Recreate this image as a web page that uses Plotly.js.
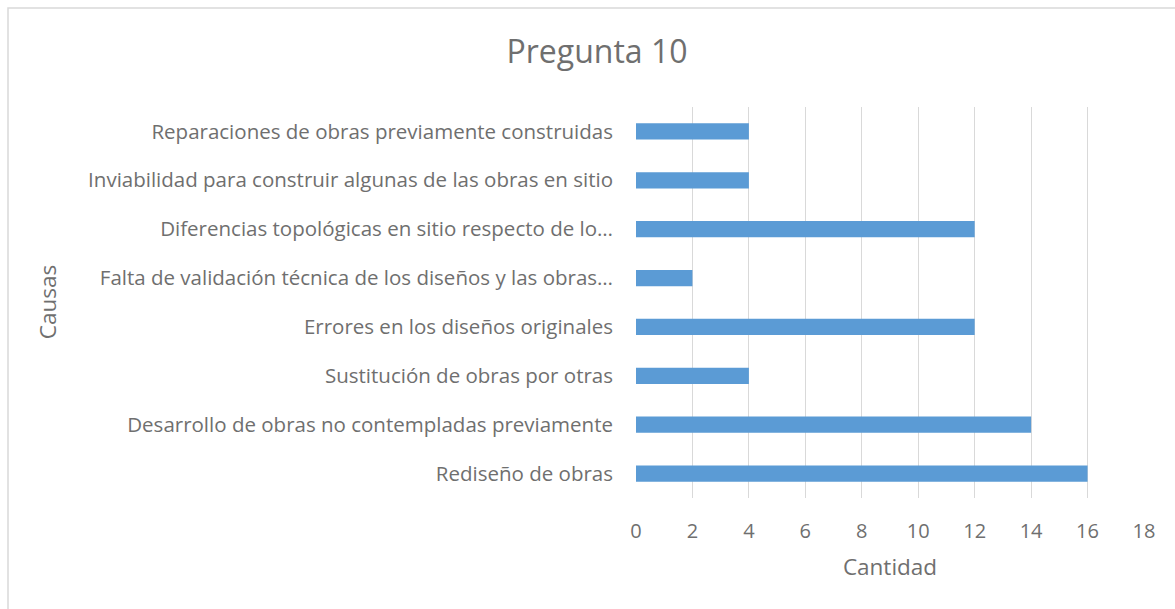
<!DOCTYPE html>
<html>
<head>
<meta charset="utf-8">
<script src="https://cdn.plot.ly/plotly-3.0.1.min.js"></script>
<style>
html,body{margin:0;padding:0;background:#fff;}
#chart{width:1175px;height:609px;}
</style>
</head>
<body>
<div id="chart"></div>
<script>
// Data (bottom to top order as drawn)
const categories = [
  "Rediseño de obras",
  "Desarrollo de obras no contempladas previamente",
  "Sustitución de obras por otras",
  "Errores en los diseños originales",
  "Falta de validación técnica de los diseños y las obras…",
  "Diferencias topológicas en sitio respecto de lo…",
  "Inviabilidad para construir algunas de las obras en sitio",
  "Reparaciones de obras previamente construidas"
];
const values = [16, 14, 4, 12, 2, 12, 4, 4];
const xTicks = [0, 2, 4, 6, 8, 10, 12, 14, 16, 18];

const W = 1175, H = 609;
const margin = {l: 636, r: 31, t: 107, b: 111};
const pw = W - margin.l - margin.r, ph = H - margin.t - margin.b;
const font = "'Open Sans', Lato, sans-serif";
const txt = "#6F6F6F";

const trace = {
  type: "bar",
  orientation: "h",
  y: categories,
  x: values,
  marker: {color: "#5B9BD5"},
  width: 0.335,
  hoverinfo: "x+y"
};

const layout = {
  width: W, height: H,
  margin: margin,
  paper_bgcolor: "#fff",
  plot_bgcolor: "#fff",
  showlegend: false,
  title: {
    text: "Pregunta 10",
    font: {family: font, size: 32, color: txt},
    x: 597 / W, xanchor: "center", xref: "container",
    y: 1 - 52 / H, yanchor: "middle", yref: "container"
  },
  xaxis: {
    range: [0, 18],
    tickvals: xTicks,
    ticktext: xTicks.map(String),
    showgrid: true,
    gridcolor: "#D9D9D9",
    gridwidth: 1,
    zeroline: false,
    showline: false,
    ticks: "",
    ticklabelstandoff: 19,
    tickfont: {family: font, size: 20, color: txt},
    title: {text: "Cantidad", font: {family: font, size: 22.5, color: txt}, standoff: 16},
    fixedrange: true
  },
  yaxis: {
    type: "category",
    categoryorder: "array",
    categoryarray: categories,
    range: [-0.5, categories.length - 0.5],
    showgrid: false,
    zeroline: false,
    showline: false,
    ticks: "",
    ticklabelstandoff: 22,
    tickfont: {family: font, size: 20.5, color: txt},
    title: {text: "Causas", font: {family: font, size: 22.5, color: txt}, standoff: 10},
    fixedrange: true
  },
  shapes: [{
    type: "rect",
    xref: "paper", yref: "paper",
    x0: (8 - margin.l) / pw, x1: (1180 - margin.l) / pw,
    y0: -(H + 5 - margin.t - ph) / ph, y1: 1 + (margin.t - 8) / ph,
    line: {color: "#D9D9D9", width: 1.5},
    fillcolor: "rgba(0,0,0,0)",
    layer: "below"
  }]
};

Plotly.newPlot("chart", [trace], layout, {displayModeBar: false, staticPlot: true}).then(() => {
  // Position "Causas" title near the left edge as in the reference
  const yt = document.querySelector(".g-ytitle text");
  if (yt) {
    const cx = 56, cy = 302;
    yt.setAttribute("x", cx);
    yt.setAttribute("y", cy);
    yt.setAttribute("transform", "rotate(-90," + cx + "," + cy + ")");
  }
});
</script>
</body>
</html>
